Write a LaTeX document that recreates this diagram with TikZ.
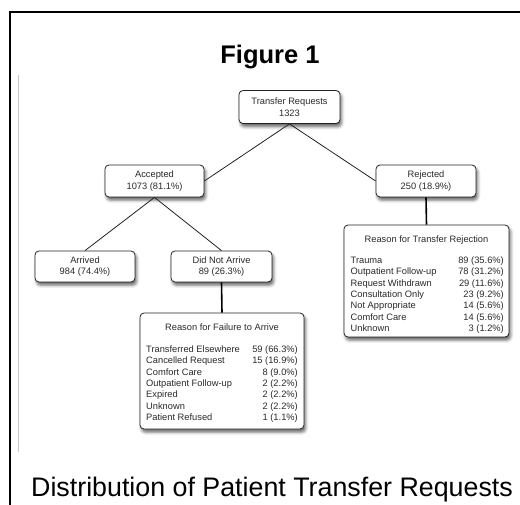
\documentclass[tikz,border=0pt]{standalone}
\usepackage{fontspec}
\setmainfont{Liberation Sans}
\usetikzlibrary{shadows.blur}
\definecolor{txt}{HTML}{2A2A2A}
\definecolor{edge}{HTML}{222222}
\tikzset{
  boxsty/.style={draw=edge, line width=0.8pt, rounded corners=4pt, fill=white,
    inner sep=0pt, align=center, text=txt,
    font=\fontsize{9.3}{11.6}\selectfont,
    blur shadow={shadow xshift=1.6pt, shadow yshift=-3.2pt, shadow blur radius=3pt, shadow opacity=60}},
  itemL/.style={anchor=base west, inner sep=0pt, text=txt, font=\fontsize{9.3}{11}\selectfont},
  itemR/.style={anchor=base east, inner sep=0pt, text=txt, font=\fontsize{9.3}{11}\selectfont},
  itemT/.style={anchor=base, inner sep=0pt, text=txt, font=\fontsize{9.3}{11}\selectfont},
  thinlink/.style={draw=edge, line width=0.8pt},
  thicklink/.style={draw=black, line width=1.6pt},
}
\begin{document}
\begin{tikzpicture}[x=1pt,y=-1pt]
\useasboundingbox (0,0) rectangle (520,505);
% frame
\draw[line width=1.4pt] (10,505) -- (10,12) -- (520,12);
\draw[line width=0.8pt, black!22] (18.5,75) -- (18.5,452);
% title and caption
\node[anchor=base, inner sep=0pt, font=\fontsize{25.5}{30}\selectfont\bfseries] (title) at (270,64) {Figure 1};
\node[anchor=base, inner sep=0pt, font=\fontsize{26.8}{30}\selectfont] (caption) at (272,496) {Distribution of Patient Transfer Requests};
% boxes
\node[boxsty, minimum width=101pt, minimum height=33pt] (trans) at (289.5,107) {Transfer Requests\\1323};
\node[boxsty, minimum width=99pt, minimum height=32pt] (acc) at (154.5,181) {Accepted\\1073 (81.1\%)};
\node[boxsty, minimum width=100pt, minimum height=32pt] (rej) at (426,181) {Rejected\\250 (18.9\%)};
\node[boxsty, minimum width=100pt, minimum height=31pt] (arr) at (85,266.5) {Arrived\\984 (74.4\%)};
\node[boxsty, minimum width=101pt, minimum height=31pt] (dna) at (221.5,266.5) {Did Not Arrive\\89 (26.3\%)};
\node[boxsty, minimum width=165pt, minimum height=112pt] (rejbox) at (426.5,281) {};
\node[boxsty, minimum width=164pt, minimum height=116pt] (failbox) at (222,371) {};
% connectors
\draw[thinlink] (trans.south) -- (acc.east);
\draw[thinlink] (trans.south) -- (rej.west);
\draw[thinlink] (acc.south) -- (arr.north);
\draw[thinlink] (acc.south) -- (dna.north);
\draw[thicklink] (rej.south) -- (rejbox.north);
\draw[thicklink] (dna.south) -- (failbox.north);
% rejection reasons
\node[itemT] (rt) at (426.5,242.3) {Reason for Transfer Rejection};
\node[itemL] (r1l) at (350.5,263.6) {Trauma};
\node[itemR] (r1r) at (504,263.6) {89 (35.6\%)};
\node[itemL] (r2l) at (350.5,274.9) {Outpatient Follow-up};
\node[itemR] (r2r) at (504,274.9) {78 (31.2\%)};
\node[itemL] (r3l) at (350.5,286.2) {Request Withdrawn};
\node[itemR] (r3r) at (504,286.2) {29 (11.6\%)};
\node[itemL] (r4l) at (350.5,297.5) {Consultation Only};
\node[itemR] (r4r) at (504,297.5) {23 (9.2\%)};
\node[itemL] (r5l) at (350.5,308.8) {Not Appropriate};
\node[itemR] (r5r) at (504,308.8) {14 (5.6\%)};
\node[itemL] (r6l) at (350.5,320.1) {Comfort Care};
\node[itemR] (r6r) at (504,320.1) {14 (5.6\%)};
\node[itemL] (r7l) at (350.5,331.4) {Unknown};
\node[itemR] (r7r) at (504,331.4) {3 (1.2\%)};
% failure reasons
\node[itemT] (ft) at (222,330.5) {Reason for Failure to Arrive};
\node[itemL] (f1l) at (146,352.6) {Transferred Elsewhere};
\node[itemR] (f1r) at (298,352.6) {59 (66.3\%)};
\node[itemL] (f2l) at (146,363.9) {Cancelled Request};
\node[itemR] (f2r) at (298,363.9) {15 (16.9\%)};
\node[itemL] (f3l) at (146,375.2) {Comfort Care};
\node[itemR] (f3r) at (298,375.2) {8 (9.0\%)};
\node[itemL] (f4l) at (146,386.5) {Outpatient Follow-up};
\node[itemR] (f4r) at (298,386.5) {2 (2.2\%)};
\node[itemL] (f5l) at (146,397.8) {Expired};
\node[itemR] (f5r) at (298,397.8) {2 (2.2\%)};
\node[itemL] (f6l) at (146,409.1) {Unknown};
\node[itemR] (f6r) at (298,409.1) {2 (2.2\%)};
\node[itemL] (f7l) at (146,420.4) {Patient Refused};
\node[itemR] (f7r) at (298,420.4) {1 (1.1\%)};
\end{tikzpicture}
\end{document}
